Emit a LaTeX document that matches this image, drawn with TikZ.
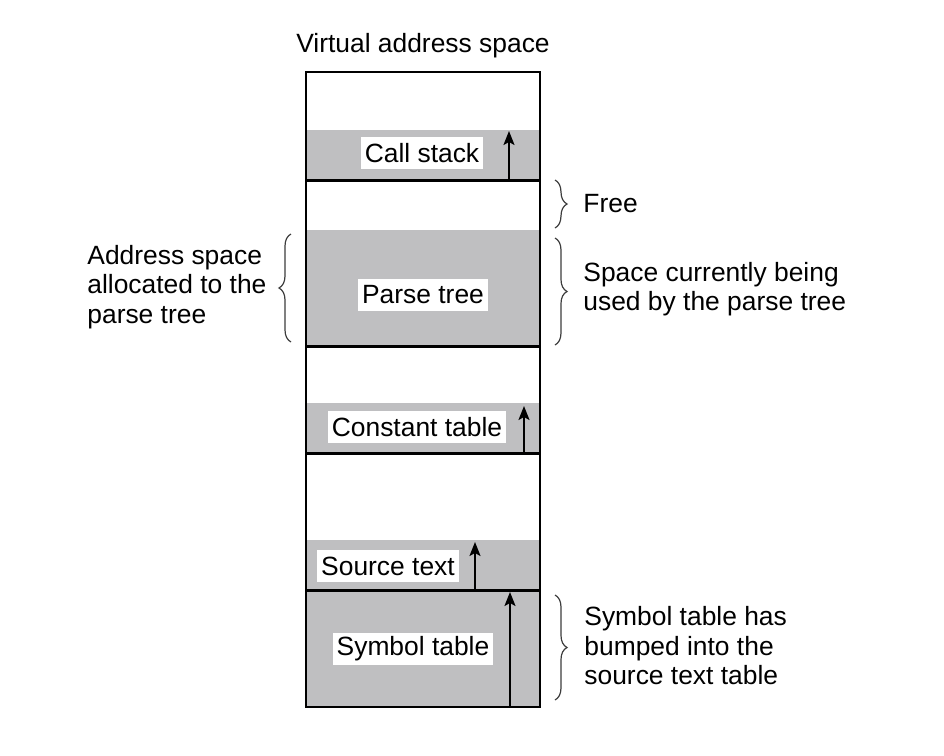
\documentclass[tikz,border=0pt]{standalone}
\usepackage{fontspec}
\setmainfont{Liberation Sans}
\usepackage{tikz}
\usetikzlibrary{arrows.meta,decorations.pathreplacing}
\definecolor{segfill}{RGB}{191,191,193}
\definecolor{bracegray}{RGB}{60,60,60}

\begin{document}
\begin{tikzpicture}[x=0.5pt,y=-0.5pt,
  font=\fontsize{13.2}{14.75}\selectfont,
  seglabel/.style={fill=white,inner xsep=2pt,inner ysep=0pt,minimum height=16pt},
  sidetext/.style={anchor=west,align=left,inner sep=0pt},
  growarrow/.style={line width=1pt,-{Stealth[length=7pt,width=5.5pt,inset=1.5pt]}},
  curly/.style={bracegray,line width=0.6pt,decorate,decoration={brace,amplitude=6pt}}]
\useasboundingbox (0,0) rectangle (944,756);
\fill[segfill]
(306,130) rectangle (540,180)
(306,230) rectangle (540,346)
(306,403) rectangle (540,453)
(306,540) rectangle (540,707);
\draw[line width=1.5pt]
(306,180) -- (540,180)
(306,346) -- (540,346)
(306,453) -- (540,453)
(306,590) -- (540,590);
\draw[line width=1pt] (306,72) rectangle (540,707);
\node[inner sep=0pt] (title) at (423,46) {Virtual address space};
% stacks and tables
\node[seglabel] (callstack) at (422,153) {Call stack};
\node[seglabel] (parsetree) at (423,295) {Parse tree};
\node[seglabel] (consttable) at (417,427) {Constant table};
\node[seglabel] (sourcetext) at (388,566) {Source text};
\node[seglabel] (symtable) at (413,649) {Symbol table};
% growth arrows
\coordinate (cs0) at (509,180); \coordinate (cs1) at (509,131);
\coordinate (ct0) at (524,453); \coordinate (ct1) at (524,406);
\coordinate (st0) at (475,590); \coordinate (st1) at (475,542);
\coordinate (sy0) at (510,707); \coordinate (sy1) at (510,592);
\draw[growarrow] (cs0) -- (cs1);
\draw[growarrow] (ct0) -- (ct1);
\draw[growarrow] (st0) -- (st1);
\draw[growarrow] (sy0) -- (sy1);
% braces
\coordinate (fr0) at (555,180); \coordinate (fr1) at (555,228);
\coordinate (us0) at (555,238); \coordinate (us1) at (555,345);
\coordinate (al0) at (291,342); \coordinate (al1) at (291,234);
\coordinate (bu0) at (555,595); \coordinate (bu1) at (555,700);
\draw[curly] (fr0) -- (fr1);
\draw[curly] (us0) -- (us1);
\draw[curly] (al0) -- (al1);
\draw[curly] (bu0) -- (bu1);
\node[sidetext] (free) at (583,204) {Free};
\node[sidetext] (used) at (583,289) {Space currently being\\used by the parse tree};
\node[sidetext] (alloc) at (87,287) {Address space\\allocated to the\\parse tree};
\node[sidetext] (bumped) at (584,646) {Symbol table has\\bumped into the\\source text table};
\end{tikzpicture}
\end{document}
